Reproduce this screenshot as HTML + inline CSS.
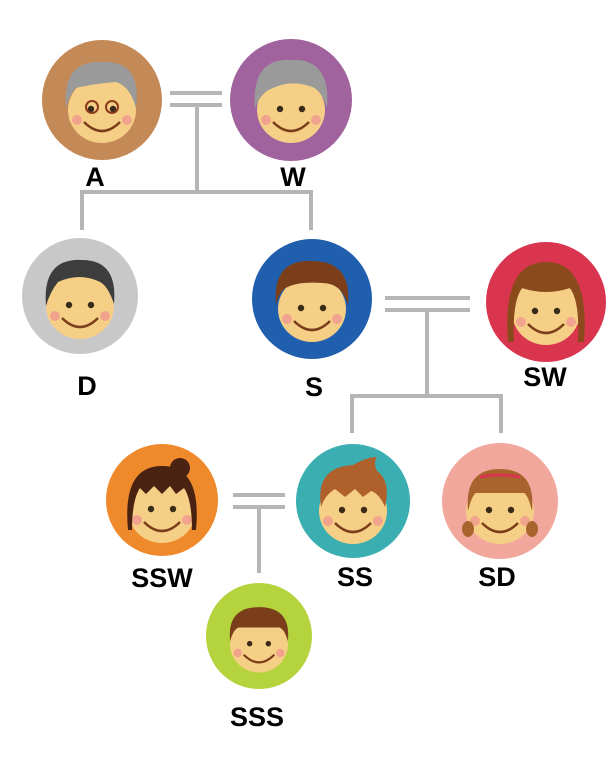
<!DOCTYPE html>
<html><head><meta charset="utf-8"><style>
html,body{margin:0;padding:0;background:#fff}
svg{display:block}
text{font-family:"Liberation Sans",Arial,sans-serif;font-weight:bold;font-size:27px;fill:#000;text-anchor:middle}
</style></head><body>
<svg width="614" height="776" viewBox="0 0 614 776" xmlns="http://www.w3.org/2000/svg">
<defs>
<g id="base">
<ellipse cx="0" cy="10" rx="34" ry="33" fill="#f6cf86"/>
<circle cx="-11" cy="9" r="3.2" fill="#3a2a1a"/>
<circle cx="11" cy="9" r="3.2" fill="#3a2a1a"/>
<circle cx="-25" cy="20" r="5" fill="#f1a38e"/>
<circle cx="25" cy="20" r="5" fill="#f1a38e"/>
<path d="M-18,22 Q0,40 18,22" fill="none" stroke="#7a3f1a" stroke-width="2.5"/>
</g>
</defs>
<g stroke="#b5b5b5" stroke-width="4" fill="none">
<path d="M170,93H222M170,105H222M197,105V192M82,192H311M82,190V230M311,190V230"/>
<path d="M385,298H470M385,310H470M427,310V396M352,396H501M352,394V433M501,394V433"/>
<path d="M233,495H285M233,507H285M259,507V573"/>
</g>
<!-- A -->
<g transform="translate(102,100)">
<circle r="60" fill="#c38a57"/>
<use href="#base"/>
<path d="M-36,8 Q-40,-40 0,-38 Q40,-40 34,8 Q28,-14 14,-18 Q-10,-16 -26,-12 Q-32,-6 -36,8Z" fill="#9a9a9a"/>
<circle cx="-10" cy="7" r="6" fill="none" stroke="#8b3a1a" stroke-width="2"/>
<circle cx="10" cy="7" r="6" fill="none" stroke="#8b3a1a" stroke-width="2"/>
</g>
<text x="95" y="186">A</text>
<!-- W -->
<g transform="translate(291,100)">
<circle r="61" fill="#a0639d"/>
<use href="#base"/>
<path d="M-36,8 Q-40,-42 0,-40 Q40,-42 36,8 Q30,-12 18,-14 Q0,-20 -18,-12 Q-30,-8 -36,8Z" fill="#9a9a9a"/>
</g>
<text x="293" y="186">W</text>
<!-- D -->
<g transform="translate(80,296)">
<circle r="58" fill="#c8c8c8"/>
<use href="#base"/>
<path d="M-34,10 Q-38,-38 2,-36 Q38,-36 34,8 Q28,-10 20,-14 Q0,-24 -22,-14 Q-30,-4 -34,10Z" fill="#3d3d3d"/>
</g>
<text x="87" y="395">D</text>
<!-- S -->
<g transform="translate(312,299)">
<circle r="60" fill="#1f5fae"/>
<use href="#base"/>
<path d="M-36,6 Q-40,-40 0,-38 Q40,-38 36,6 Q30,-16 10,-16 Q-16,-18 -28,-10 Q-34,-4 -36,6Z" fill="#7a3f1a"/>
</g>
<text x="314" y="396">S</text>
<!-- SW -->
<g transform="translate(546,302)">
<circle r="60" fill="#d9354f"/>
<use href="#base"/>
<path d="M-38,40 Q-44,-40 0,-40 Q44,-40 38,40 L32,40 Q34,0 24,-14 Q0,-6 -24,-14 Q-34,0 -32,40Z" fill="#8a4a1c"/>
</g>
<text x="545" y="386">SW</text>
<!-- SSW -->
<g transform="translate(162,500)">
<circle r="56" fill="#ef8a2c"/>
<circle cx="18" cy="-32" r="10" fill="#4a2212"/>
<use href="#base"/>
<path d="M-34,30 Q-40,-34 0,-34 Q40,-34 34,30 L30,30 Q30,0 22,-12 L14,-6 L8,-14 L0,-6 L-8,-14 L-16,-6 L-22,-12 Q-30,0 -30,30Z" fill="#4a2212"/>
</g>
<text x="162" y="587">SSW</text>
<!-- SS -->
<g transform="translate(353,501)">
<circle r="57" fill="#3aaeb0"/>
<use href="#base"/>
<path d="M-32,6 Q-38,-34 0,-36 Q14,-44 24,-44 Q20,-38 24,-30 Q38,-20 32,6 Q26,-8 18,-10 L10,-4 L2,-12 L-8,-4 L-18,-12 Q-28,-6 -32,6Z" fill="#b0612b"/>
</g>
<text x="355" y="586">SS</text>
<!-- SD -->
<g transform="translate(500,501)">
<circle r="58" fill="#f2a79d"/>
<use href="#base"/>
<path d="M-32,10 Q-36,-32 0,-32 Q36,-32 32,10 Q28,-6 24,-8 L-24,-8 Q-28,-6 -32,10Z" fill="#a8642c"/>
<path d="M-20,-24 Q0,-28 20,-24" stroke="#d9354f" stroke-width="3" fill="none"/>
<ellipse cx="-32" cy="28" rx="6" ry="8" fill="#a8642c"/>
<ellipse cx="32" cy="28" rx="6" ry="8" fill="#a8642c"/>
</g>
<text x="497" y="586">SD</text>
<!-- SSS -->
<g transform="translate(259,636)">
<circle r="53" fill="#b5d33c"/>
<g transform="scale(0.85)">
<use href="#base"/>
<path d="M-34,6 Q-38,-34 0,-34 Q38,-34 34,6 Q30,-8 24,-10 L-24,-10 Q-30,-8 -34,6Z" fill="#7a3f1a"/>
</g>
</g>
<text x="257" y="726">SSS</text>
</svg>
</body></html>
